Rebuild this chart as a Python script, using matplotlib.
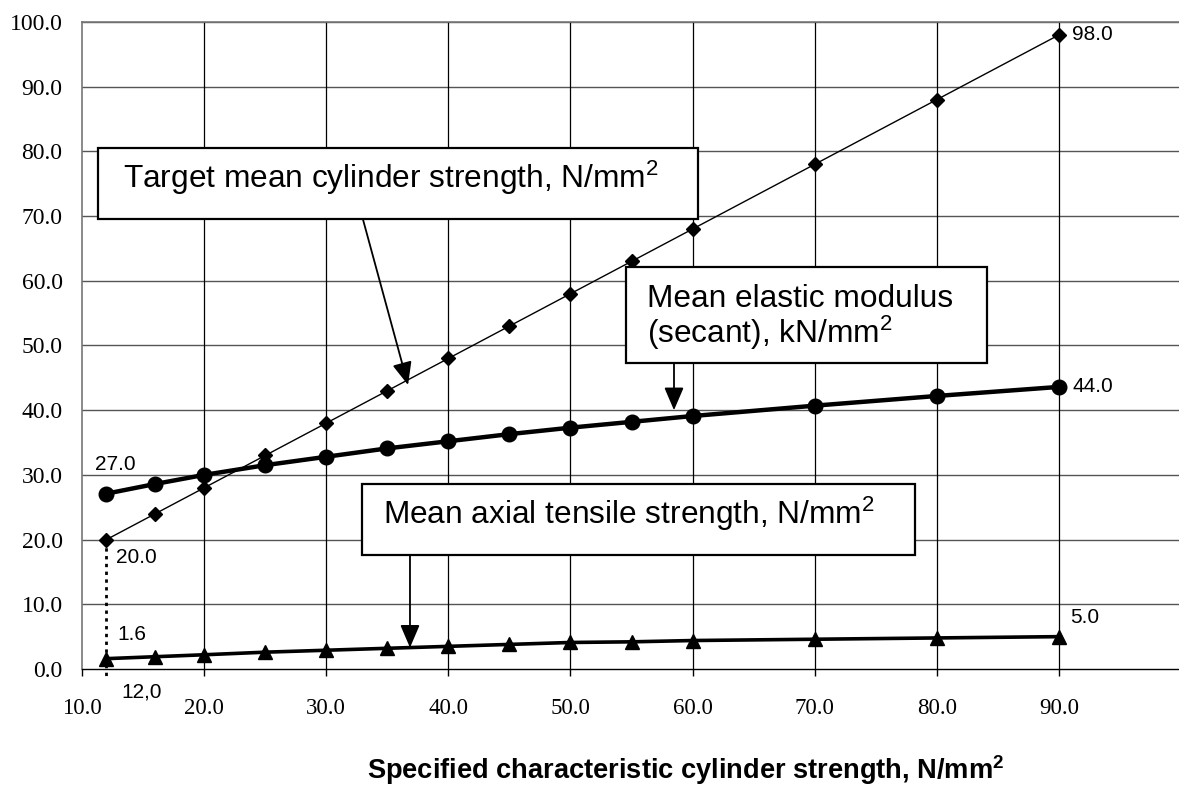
import matplotlib
matplotlib.use("Agg")
import matplotlib.pyplot as plt
from matplotlib.patches import Rectangle

# ---- data ----
fck = [12, 16, 20, 25, 30, 35, 40, 45, 50, 55, 60, 70, 80, 90]
fcm = [20, 24, 28, 33, 38, 43, 48, 53, 58, 63, 68, 78, 88, 98]
ecm = [27.1, 28.6, 30.0, 31.5, 32.8, 34.1, 35.2, 36.3, 37.3, 38.2, 39.1, 40.7, 42.2, 43.6]
fctm = [1.6, 1.9, 2.2, 2.6, 2.9, 3.2, 3.5, 3.8, 4.1, 4.2, 4.4, 4.6, 4.8, 5.0]
x_ticks = [10, 20, 30, 40, 50, 60, 70, 80, 90, 100]
x_ticklabels = ["10.0", "20.0", "30.0", "40.0", "50.0", "60.0", "70.0", "80.0", "90.0", ""]
y_ticks = [0, 10, 20, 30, 40, 50, 60, 70, 80, 90, 100]
y_ticklabels = ["%.1f" % v for v in y_ticks]

SANS = ["Liberation Sans", "DejaVu Sans"]
SERIF = ["Liberation Serif", "DejaVu Serif"]

fig = plt.figure(figsize=(11.79, 7.90), dpi=100)
ax = fig.add_axes([82/1179, 121/790, 1099/1179, 647/790])
ax.set_xlim(10, 100)
ax.set_ylim(0, 100)

# grid
for yv in y_ticks[1:]:
    ax.axhline(yv, color="#555555", lw=1.0, zorder=1)
for xv in x_ticks[1:]:
    ax.axvline(xv, color="black", lw=0.9, zorder=1)

for s in ["top", "left"]:
    ax.spines[s].set_color("#777777")
    ax.spines[s].set_linewidth(1.2)
ax.spines["right"].set_visible(False)
ax.spines["bottom"].set_color("black")
ax.spines["bottom"].set_linewidth(1.0)

ax.set_xticks(x_ticks)
ax.set_xticklabels(x_ticklabels, family=SERIF, fontsize=16.5)
ax.set_yticks(y_ticks)
ax.set_yticklabels(y_ticklabels, family=SERIF, fontsize=17)
ax.tick_params(axis="x", direction="out", length=5, width=1, pad=16)
ax.tick_params(axis="y", length=0, pad=14)

# series
ax.plot(fck, fcm, color="black", lw=1.0, marker="D", markersize=7, zorder=5, clip_on=False)
ax.plot(fck, ecm, color="black", lw=3.2, marker="o", markersize=10.5, zorder=5, clip_on=False)
ax.plot(fck, fctm, color="black", lw=2.6, marker="^", markersize=10.5, zorder=5, clip_on=False)

# dotted marker line at 12
ax.plot([fck[0], fck[0]], [fcm[0], -1.1], color="black", lw=2, ls=(0, (1.2, 1.6)), zorder=4, clip_on=False)

# value labels
lab_kw = dict(family=SANS, fontsize=15, va="center", ha="left", zorder=6)
ax.text(91.1, fcm[-1], "98.0", **lab_kw)
ax.text(91.1, ecm[-1], "44.0", **lab_kw)
ax.text(90.9, 8.0, "5.0", **lab_kw)
ax.text(11.05, 31.6, "27.0", **lab_kw)
ax.text(12.8, 17.2, "20.0", **lab_kw)
ax.text(12.9, 5.3, "1.6", **lab_kw)
ax.text(14.9, -3.5, "12,0", family=SANS, fontsize=15, va="center", ha="center", clip_on=False)

# annotation boxes
def box(x0, x1, y0, y1):
    ax.add_patch(Rectangle((x0, y0), x1 - x0, y1 - y0, facecolor="white",
                           edgecolor="black", lw=1.6, zorder=7))

def arrow(xy_from, xy_to):
    ax.annotate("", xy=xy_to, xytext=xy_from,
                arrowprops=dict(arrowstyle="-|>,head_length=0.7,head_width=0.3",
                                color="black", lw=1.3, shrinkA=0, shrinkB=0,
                                mutation_scale=20), zorder=8)

txt_kw = dict(family=SANS, fontsize=22.8, ha="left", va="baseline", zorder=9)

box(11.31, 60.45, 69.55, 80.5)
ax.text(13.36, 74.3, r"Target mean cylinder strength, N/mm$\mathregular{^2}$", **txt_kw)
arrow((33.0, 69.55), (36.7, 43.9))

box(54.55, 84.12, 47.3, 62.1)
ax.text(56.27, 55.95, "Mean elastic modulus", **txt_kw)
ax.text(56.27, 50.4, r"(secant), kN/mm$\mathregular{^2}$", **txt_kw)
arrow((58.48, 47.3), (58.48, 40.0))

box(32.93, 78.22, 17.6, 28.6)
ax.text(34.65, 22.4, r"Mean axial tensile strength, N/mm$\mathregular{^2}$", **txt_kw)
arrow((36.86, 17.6), (36.86, 3.3))

# x axis label
fig.text(686/1179, 1 - 770/790,
         r"Specified characteristic cylinder strength, N/mm$\mathregular{^2}$",
         family=SANS, fontweight="bold", fontsize=19.6, ha="center", va="center")

fig.savefig("out.png", dpi=100)
